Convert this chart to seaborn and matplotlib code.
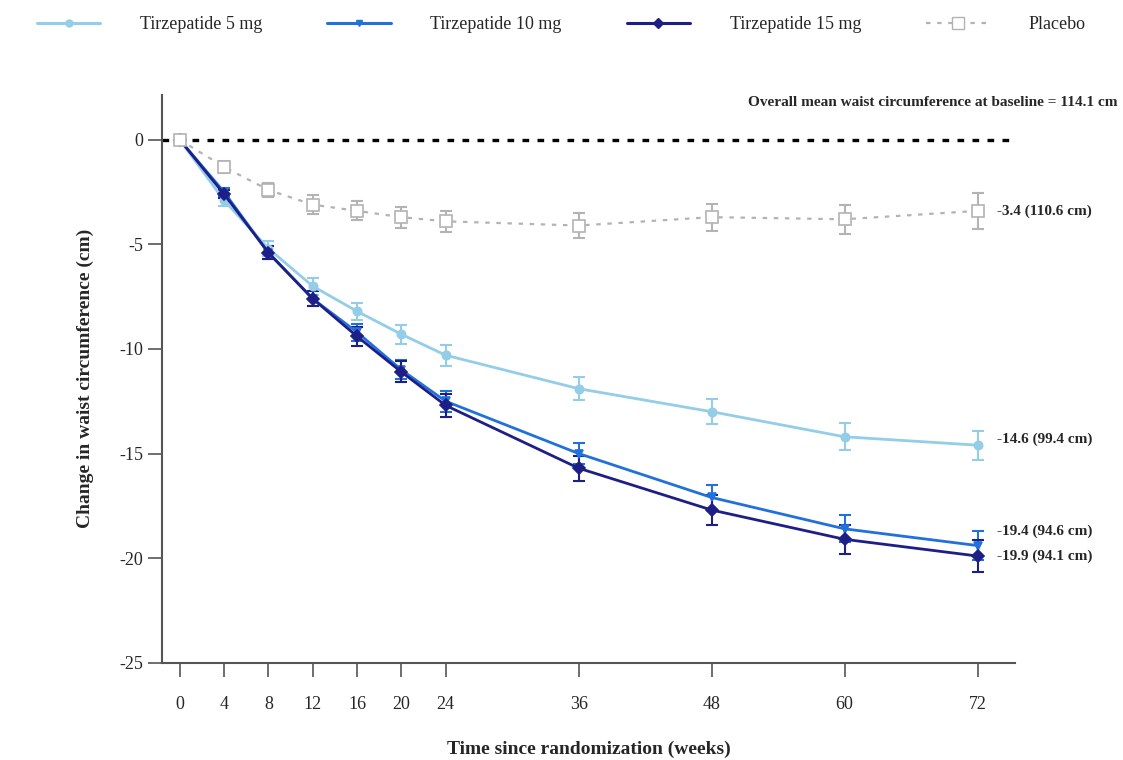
import numpy as np
import pandas as pd
import matplotlib
matplotlib.use("Agg")
import matplotlib.pyplot as plt
import seaborn as sns

# ── Data ──────────────────────────────────────────────────────────────────────
WEEKS = [0, 4, 8, 12, 16, 20, 24, 36, 48, 60, 72]

TZP5 = [0, -2.9, -5.2, -7.0, -8.2, -9.3, -10.3, -11.9, -13.0, -14.2, -14.6]
TZP10 = [0, -2.5, -5.4, -7.6, -9.2, -11.0, -12.5, -15.0, -17.1, -18.6, -19.4]
TZP15 = [0, -2.6, -5.4, -7.6, -9.4, -11.1, -12.7, -15.7, -17.7, -19.1, -19.9]
PLACEBO = [0, -1.3, -2.4, -3.1, -3.4, -3.7, -3.9, -4.1, -3.7, -3.8, -3.4]

SE5 = [0, 0.25, 0.35, 0.4, 0.4, 0.45, 0.5, 0.55, 0.6, 0.65, 0.7]
SE10 = [0, 0.2, 0.3, 0.35, 0.4, 0.45, 0.5, 0.5, 0.6, 0.65, 0.7]
SE15 = [0, 0.2, 0.3, 0.35, 0.45, 0.5, 0.55, 0.6, 0.7, 0.7, 0.75]
SEPBO = [0, 0.3, 0.35, 0.45, 0.45, 0.5, 0.5, 0.6, 0.65, 0.7, 0.85]

GROUPS = ["Tirzepatide 5 mg", "Tirzepatide 10 mg", "Tirzepatide 15 mg", "Placebo"]
END_LABELS = ["-14.6 (99.4 cm)", "-19.4 (94.6 cm)", "-19.9 (94.1 cm)", "-3.4 (110.6 cm)"]
X_TICKS = [0, 4, 8, 12, 16, 20, 24, 36, 48, 60, 72]
Y_TICKS = [0, -5, -10, -15, -20, -25]

COLORS = {"Tirzepatide 5 mg": "#93cde8", "Tirzepatide 10 mg": "#2170dc",
          "Tirzepatide 15 mg": "#1e1f86", "Placebo": "#b3b3b3"}
MARKERS = {"Tirzepatide 5 mg": "o", "Tirzepatide 10 mg": "v",
           "Tirzepatide 15 mg": "D", "Placebo": "s"}
# vertical nudge of end labels (points) so the two lowest don't collide
LABEL_NUDGE = [4, 10, 0, 0]

series = [TZP5, TZP10, TZP15, PLACEBO]
errors = [SE5, SE10, SE15, SEPBO]

df = pd.DataFrame({
    "week": WEEKS * 4,
    "change": sum(series, []),
    "se": sum(errors, []),
    "group": sum([[g] * len(WEEKS) for g in GROUPS], []),
})

# ── Style ─────────────────────────────────────────────────────────────────────
sns.set_style("ticks")
plt.rcParams["font.family"] = ["Liberation Serif", "DejaVu Serif"]
plt.rcParams["axes.unicode_minus"] = False

fig = plt.figure(figsize=(11.23, 7.6), dpi=100)
ax = fig.add_axes([0.144, 0.128, 0.76, 0.747])

ax.axhline(0, color="black", ls=(0, (2, 2.5)), lw=2.4, zorder=1)

for g in GROUPS:
    sub = df[df["group"] == g]
    c = COLORS[g]
    is_pbo = g == "Placebo"
    ax.errorbar(sub["week"], sub["change"], yerr=sub["se"], fmt="none",
                ecolor=c, elinewidth=1.5, capsize=4, capthick=1.5, zorder=2)
    sns.lineplot(data=sub, x="week", y="change", ax=ax, color=c,
                 marker=MARKERS[g], markersize=9 if is_pbo else 6,
                 markerfacecolor="white" if is_pbo else c,
                 markeredgecolor=c, markeredgewidth=1.2,
                 linestyle=(0, (2, 3)) if is_pbo else "-",
                 linewidth=1.6 if is_pbo else 2.0, label=g, legend=False,
                 zorder=3)

# end-of-line labels
for g, vals, lab, dy in zip(GROUPS, series, END_LABELS, LABEL_NUDGE):
    ax.annotate(lab, xy=(WEEKS[-1], vals[-1]), xytext=(14, dy),
                textcoords="offset points", va="center", ha="left",
                fontsize=11, fontweight="bold", annotation_clip=False)

fig.text(0.995, 0.865, "Overall mean waist circumference at baseline = 114.1 cm",
         ha="right", va="center", fontsize=11, fontweight="bold")

ax.set_xlim(-1.63, 75.4)
ax.set_ylim(-25, 2.14)
ax.set_xticks(X_TICKS)
ax.set_yticks(Y_TICKS)
ax.tick_params(axis="both", labelsize=13, length=10, width=1.2, color="#555555")
ax.tick_params(axis="x", pad=14)
for s in ["top", "right"]:
    ax.spines[s].set_visible(False)
for s in ["left", "bottom"]:
    ax.spines[s].set_linewidth(1.5)
    ax.spines[s].set_color("#555555")

ax.set_xlabel("Time since randomization (weeks)", fontsize=14, fontweight="bold", labelpad=20)
ax.set_ylabel("Change in waist circumference (cm)", fontsize=14, fontweight="bold", labelpad=18)

# legend across the top
handles = [plt.Line2D([], [], color=COLORS[g], marker=MARKERS[g],
                      markersize=8 if g == "Placebo" else 5,
                      markerfacecolor="white" if g == "Placebo" else COLORS[g],
                      linestyle=(0, (2, 3)) if g == "Placebo" else "-",
                      lw=1.6 if g == "Placebo" else 2.2) for g in GROUPS]
fig.legend(handles, GROUPS, loc="upper center", bbox_to_anchor=(0.5, 1.0), ncol=4,
           frameon=False, fontsize=13, handlelength=3.5, columnspacing=3.6,
           handletextpad=2.2)

fig.savefig("out.png", dpi=100)
